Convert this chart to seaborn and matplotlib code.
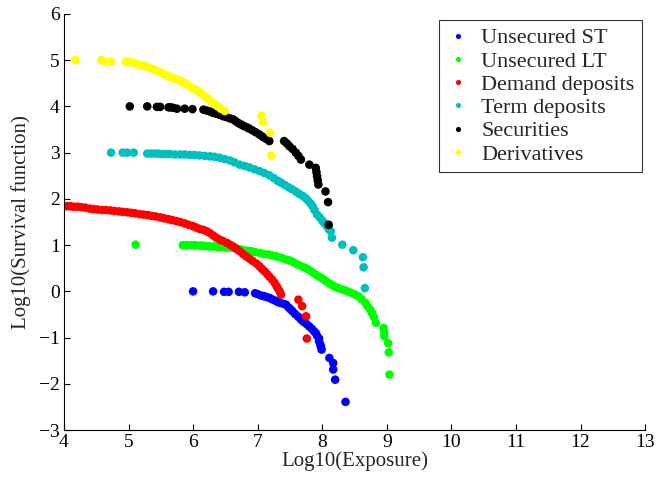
import numpy as np
import pandas as pd
import seaborn as sns
import matplotlib.pyplot as plt

sns.set_theme(style="white")
plt.rcParams['font.family'] = ['Liberation Serif', 'DejaVu Serif']

# Values: log10(exposure) and log10(survival function)
st_x = [6.00, 6.31, 6.48, 6.55, 6.71, 6.80, 6.96, 7.00, 7.05, 7.09, 7.13, 7.18,
        7.22, 7.27, 7.31, 7.35, 7.40, 7.44, 7.48, 7.51, 7.54, 7.58, 7.63, 7.67,
        7.71, 7.76, 7.80, 7.84, 7.87, 7.90, 7.92, 7.95, 7.95, 7.97, 7.98, 7.99,
        8.11, 8.17, 8.17, 8.20, 8.36]
st_y = [0.00, 0.00, -0.01, -0.01, -0.01, -0.02, -0.04, -0.06, -0.09, -0.10, -0.12, -0.14,
        -0.17, -0.20, -0.23, -0.25, -0.27, -0.29, -0.35, -0.39, -0.43, -0.49, -0.55, -0.61,
        -0.66, -0.71, -0.76, -0.81, -0.86, -0.90, -0.96, -1.02, -1.08, -1.15, -1.20, -1.26,
        -1.44, -1.55, -1.69, -1.91, -2.39]

lt_x = [5.11, 5.84, 5.90, 5.97, 6.03, 6.10, 6.14, 6.18, 6.22, 6.26, 6.30, 6.34,
        6.38, 6.41, 6.45, 6.49, 6.53, 6.57, 6.62, 6.67, 6.72, 6.77, 6.83, 6.90,
        6.96, 7.03, 7.09, 7.16, 7.22, 7.28, 7.33, 7.38, 7.43, 7.49, 7.54, 7.59,
        7.64, 7.70, 7.75, 7.80, 7.85, 7.90, 7.95, 8.00, 8.05, 8.10, 8.15, 8.20,
        8.25, 8.31, 8.36, 8.41, 8.46, 8.51, 8.56, 8.61, 8.67, 8.70, 8.74, 8.77,
        8.80, 8.83, 8.95, 8.96, 8.96, 9.02, 9.03, 9.04]
lt_y = [1.01, 1.00, 1.00, 1.00, 1.00, 0.99, 0.99, 0.98, 0.98, 0.97, 0.97, 0.97,
        0.96, 0.96, 0.96, 0.96, 0.95, 0.95, 0.94, 0.93, 0.91, 0.90, 0.88, 0.87,
        0.85, 0.83, 0.81, 0.80, 0.78, 0.76, 0.74, 0.72, 0.69, 0.67, 0.64, 0.60,
        0.57, 0.53, 0.50, 0.46, 0.41, 0.36, 0.32, 0.28, 0.23, 0.18, 0.14, 0.10,
        0.07, 0.04, 0.02, -0.01, -0.04, -0.07, -0.11, -0.17, -0.25, -0.32, -0.39, -0.47,
        -0.56, -0.68, -0.79, -0.88, -0.97, -1.12, -1.32, -1.80]

dd_x = [4.00, 4.05, 4.10, 4.15, 4.21, 4.27, 4.33, 4.40, 4.46, 4.52, 4.59, 4.65,
        4.72, 4.78, 4.85, 4.91, 4.98, 5.04, 5.10, 5.17, 5.23, 5.30, 5.36, 5.42,
        5.49, 5.55, 5.62, 5.68, 5.74, 5.80, 5.87, 5.93, 6.00, 6.05, 6.10, 6.16,
        6.21, 6.26, 6.31, 6.36, 6.41, 6.46, 6.52, 6.57, 6.62, 6.67, 6.72, 6.77,
        6.82, 6.87, 6.92, 6.98, 7.03, 7.07, 7.11, 7.15, 7.18, 7.22, 7.26, 7.29,
        7.31, 7.34, 7.36, 7.63, 7.69, 7.75, 7.76]
dd_y = [1.85, 1.84, 1.84, 1.83, 1.83, 1.82, 1.81, 1.79, 1.78, 1.77, 1.76, 1.76,
        1.75, 1.74, 1.73, 1.72, 1.71, 1.70, 1.69, 1.67, 1.66, 1.65, 1.63, 1.62,
        1.60, 1.58, 1.56, 1.54, 1.52, 1.50, 1.47, 1.44, 1.41, 1.38, 1.35, 1.33,
        1.30, 1.26, 1.21, 1.16, 1.12, 1.09, 1.05, 1.01, 0.97, 0.92, 0.87, 0.81,
        0.76, 0.71, 0.66, 0.60, 0.54, 0.48, 0.43, 0.37, 0.32, 0.26, 0.19, 0.12,
        0.07, 0.00, -0.07, -0.18, -0.32, -0.54, -1.02]

td_x = [4.73, 4.91, 4.98, 5.08, 5.29, 5.35, 5.41, 5.46, 5.51, 5.56, 5.60, 5.64,
        5.72, 5.80, 5.87, 5.95, 6.02, 6.10, 6.18, 6.26, 6.33, 6.41, 6.49, 6.57,
        6.64, 6.72, 6.80, 6.87, 6.95, 7.03, 7.10, 7.18, 7.25, 7.31, 7.36, 7.42,
        7.48, 7.53, 7.59, 7.64, 7.69, 7.74, 7.78, 7.82, 7.85, 7.88, 7.92, 7.96,
        8.00, 8.03, 8.07, 8.10, 8.13, 8.15, 8.31, 8.48, 8.63, 8.64, 8.66]
td_y = [3.00, 3.00, 3.00, 3.00, 2.98, 2.98, 2.98, 2.98, 2.97, 2.97, 2.97, 2.97,
        2.96, 2.96, 2.96, 2.95, 2.95, 2.94, 2.93, 2.92, 2.91, 2.89, 2.86, 2.83,
        2.79, 2.74, 2.71, 2.68, 2.64, 2.60, 2.56, 2.51, 2.45, 2.39, 2.35, 2.30,
        2.25, 2.21, 2.16, 2.11, 2.07, 2.02, 1.96, 1.90, 1.84, 1.76, 1.66, 1.60,
        1.53, 1.48, 1.41, 1.35, 1.30, 1.16, 1.01, 0.89, 0.74, 0.52, 0.07]

sec_x = [5.02, 5.29, 5.44, 5.49, 5.62, 5.65, 5.69, 5.75, 5.87, 5.99, 6.16, 6.21,
         6.26, 6.31, 6.36, 6.41, 6.46, 6.51, 6.57, 6.62, 6.66, 6.70, 6.74, 6.78,
         6.83, 6.87, 6.92, 6.97, 7.03, 7.08, 7.13, 7.18, 7.41, 7.45, 7.49, 7.54,
         7.59, 7.63, 7.67, 7.80, 7.90, 7.91, 7.92, 7.93, 7.94, 8.05, 8.09, 8.10]
sec_y = [4.00, 4.00, 3.99, 3.99, 3.98, 3.98, 3.97, 3.95, 3.95, 3.94, 3.93, 3.91,
         3.89, 3.86, 3.84, 3.82, 3.79, 3.77, 3.74, 3.72, 3.68, 3.64, 3.61, 3.58,
         3.55, 3.52, 3.48, 3.44, 3.39, 3.34, 3.30, 3.25, 3.25, 3.20, 3.14, 3.08,
         3.00, 2.93, 2.85, 2.74, 2.67, 2.58, 2.49, 2.40, 2.31, 2.16, 1.93, 1.44]

der_x = [4.18, 4.58, 4.62, 4.73, 4.96, 5.00, 5.05, 5.10, 5.15, 5.20, 5.26, 5.31,
         5.36, 5.41, 5.46, 5.51, 5.56, 5.62, 5.67, 5.72, 5.77, 5.82, 5.87, 5.92,
         5.98, 6.03, 6.08, 6.13, 6.18, 6.23, 6.28, 6.33, 6.38, 6.43, 6.49, 7.06,
         7.08, 7.19, 7.21]
der_y = [5.00, 5.00, 4.98, 4.97, 4.96, 4.96, 4.95, 4.93, 4.91, 4.89, 4.87, 4.85,
         4.82, 4.79, 4.76, 4.73, 4.69, 4.66, 4.62, 4.60, 4.57, 4.54, 4.51, 4.46,
         4.40, 4.37, 4.33, 4.28, 4.22, 4.17, 4.11, 4.06, 4.00, 3.95, 3.90, 3.80,
         3.66, 3.43, 2.94]

names = ['Unsecured ST', 'Unsecured LT', 'Demand deposits',
         'Term deposits', 'Securities', 'Derivatives']
colors = ['#0000ff', '#00ff00', '#ff0000', '#00bfbf', '#000000', '#ffff00']

series = [(st_x, st_y), (lt_x, lt_y), (dd_x, dd_y),
          (td_x, td_y), (sec_x, sec_y), (der_x, der_y)]
df = pd.concat([pd.DataFrame({'x': sx, 'y': sy, 'type': n})
                for n, (sx, sy) in zip(names, series)], ignore_index=True)

fig = plt.figure(figsize=(6.59, 4.8), dpi=100)
ax = fig.add_axes([0.097, 0.104, 0.882, 0.867])
sns.scatterplot(data=df, x='x', y='y', hue='type', hue_order=names,
                palette=dict(zip(names, colors)), s=38, linewidth=0, ax=ax)

ax.set_xlim(4, 13)
ax.set_ylim(-3, 6)
ax.set_xticks(range(4, 14))
ax.set_yticks(range(-3, 7))
ax.set_xlabel('Log10(Exposure)', fontsize=15, labelpad=0)
ax.set_ylabel('Log10(Survival function)', fontsize=15, labelpad=6)
ax.tick_params(direction='in', length=4, width=0.8, labelsize=14, pad=3,
               bottom=True, left=True, colors='black')
for side in ['top', 'right']:
    ax.spines[side].set_visible(False)
for side in ['left', 'bottom']:
    ax.spines[side].set_color('black')
    ax.spines[side].set_linewidth(0.8)

handles, labels = ax.get_legend_handles_labels()
leg = ax.legend(handles, labels, loc='upper right', bbox_to_anchor=(0.995, 0.985),
                fontsize=16, markerscale=0.6, frameon=True, fancybox=False,
                borderpad=0.35, labelspacing=0.12, handletextpad=0.55,
                handlelength=1.0, borderaxespad=0)
leg.get_frame().set_edgecolor('black')
leg.get_frame().set_linewidth(0.8)

fig.savefig('out.png', dpi=100)
